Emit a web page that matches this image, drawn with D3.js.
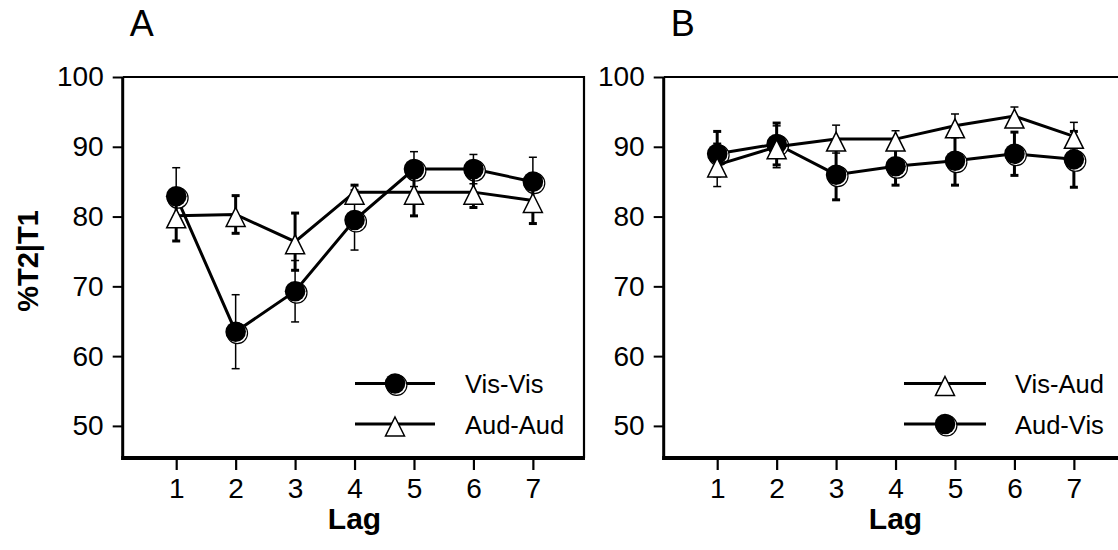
<!DOCTYPE html>
<html>
<head>
<meta charset="utf-8">
<script src="https://cdn.jsdelivr.net/npm/d3@7/dist/d3.min.js"></script>
<style>
  html, body { margin: 0; padding: 0; background: #fff; }
  svg { display: block; font-family: "Liberation Sans", Arial, sans-serif; }
</style>
</head>
<body>
<svg id="chart" width="1118" height="550"></svg>
<script>
// ---- data ----
const lags = [1, 2, 3, 4, 5, 6, 7];
const yTicks = [50, 60, 70, 80, 90, 100];

// Panel A
const visVis     = [82.9, 63.5, 69.3, 79.5, 86.8, 86.8, 85.0];
const visVisErr  = [4.1, 5.3, 4.4, 4.3, 2.5, 2.1, 3.5];
const audAud     = [80.1, 80.3, 76.4, 83.5, 83.5, 83.5, 82.3];
const audAudErr  = [3.6, 2.7, 4.1, 1.0, 3.4, 2.2, 3.3];

// Panel B
const visAud     = [87.4, 90.0, 91.1, 91.1, 93.0, 94.4, 91.5];
const visAudErr  = [3.1, 3.0, 2.0, 1.2, 1.7, 1.3, 2.0];
const audVis     = [89.0, 90.4, 86.0, 87.2, 88.0, 89.0, 88.2];
const audVisErr  = [3.2, 3.0, 3.6, 2.7, 3.5, 3.1, 4.0];

const panels = [
  { title: "A", left: 122.7, showYLabel: true,
    series: [
      { name: "Vis-Vis", values: visVis, err: visVisErr, marker: "circle", barW: 1.5 },
      { name: "Aud-Aud", values: audAud, err: audAudErr, marker: "triangle", barW: 3 }
    ],
    legendOrder: ["Vis-Vis", "Aud-Aud"],
    legendLine: [355, 435], legendText: 465 },
  { title: "B", left: 663.7, showYLabel: false,
    series: [
      { name: "Aud-Vis", values: audVis, err: audVisErr, marker: "circle", barW: 3 },
      { name: "Vis-Aud", values: visAud, err: visAudErr, marker: "triangle", barW: 1.5 }
    ],
    legendOrder: ["Vis-Aud", "Aud-Vis"],
    legendLine: [904, 986], legendText: 1015 }
];

const svg = d3.select("#chart");
const W = 461.3, topY = 77, bottomY = 458;
const y = d3.scaleLinear().domain([45.4, 100]).range([bottomY, topY]);

function drawCircle(g, cx, cy) {
  g.append("circle").attr("cx", cx + 1.6).attr("cy", cy + 1.6).attr("r", 10.3)
    .attr("fill", "#fff").attr("stroke", "#000").attr("stroke-width", 1.2);
  g.append("circle").attr("cx", cx).attr("cy", cy).attr("r", 10.3).attr("fill", "#000");
}
function drawTriangle(g, cx, cy) {
  const hw = 9.5, up = 7, dn = 12;
  g.append("path")
    .attr("d", `M${cx},${cy - up}L${cx + hw},${cy + dn}L${cx - hw},${cy + dn}Z`)
    .attr("fill", "#fff").attr("stroke", "#000").attr("stroke-width", 1.5)
    .attr("stroke-linejoin", "miter");
}

panels.forEach(p => {
  const x = d3.scaleLinear().domain([0.1, 7.86]).range([p.left, p.left + W]);
  const g = svg.append("g");

  // frame (top/right thin)
  g.append("path")
    .attr("d", `M${p.left},${topY}H${p.left + W}V${bottomY}`)
    .attr("fill", "none").attr("stroke", "#000").attr("stroke-width", 2.2);

  // y axis
  const ya = g.append("g").attr("transform", `translate(${p.left},0)`)
    .call(d3.axisLeft(y).tickValues(yTicks).tickSize(10).tickPadding(9).tickSizeOuter(0));
  ya.select(".domain").attr("stroke-width", 3).attr("d", `M0,${topY}V${bottomY + 2}`);
  ya.selectAll(".tick line").attr("stroke-width", 2);
  ya.selectAll(".tick text").attr("font-size", 28).attr("font-family", "Liberation Sans, Arial, sans-serif").attr("fill", "#000");

  // x axis
  const xa = g.append("g").attr("transform", `translate(0,${bottomY})`)
    .call(d3.axisBottom(x).tickValues(lags).tickFormat(d3.format("d")).tickSize(12).tickPadding(8).tickSizeOuter(0));
  xa.select(".domain").attr("stroke-width", 4).attr("d", `M${p.left - 1.5},0H${p.left + W + 1}`);
  xa.selectAll(".tick line").attr("stroke-width", 2.2);
  xa.selectAll(".tick text").attr("font-size", 28).attr("font-family", "Liberation Sans, Arial, sans-serif").attr("fill", "#000");

  // axis titles
  g.append("text").attr("x", x(4)).attr("y", 529).attr("text-anchor", "middle")
    .attr("font-size", 30).attr("font-weight", "bold").text("Lag");
  if (p.showYLabel) {
    g.append("text").attr("transform", "translate(38,261) rotate(-90)")
      .attr("text-anchor", "middle").attr("font-size", 29).attr("font-weight", "bold").text("%T2|T1");
  }
  // panel title
  g.append("text").attr("x", p.left + 7).attr("y", 36).attr("font-size", 36).text(p.title);

  // series
  const line = d3.line().x((d, i) => x(lags[i])).y(d => y(d));
  p.series.forEach(s => {
    const sg = g.append("g");
    sg.append("path").attr("d", line(s.values)).attr("fill", "none")
      .attr("stroke", "#000").attr("stroke-width", 3);
    s.values.forEach((v, i) => {
      const cx = x(lags[i]), y1 = y(v + s.err[i]), y2 = y(v - s.err[i]);
      sg.append("line").attr("x1", cx).attr("x2", cx).attr("y1", y1).attr("y2", y2)
        .attr("stroke", "#000").attr("stroke-width", s.barW);
      [y1, y2].forEach(yy => sg.append("line").attr("x1", cx - 4).attr("x2", cx + 4)
        .attr("y1", yy).attr("y2", yy).attr("stroke", "#000").attr("stroke-width", s.barW));
    });
    s.values.forEach((v, i) => {
      if (s.marker === "circle") drawCircle(sg, x(lags[i]), y(v));
      else drawTriangle(sg, x(lags[i]), y(v));
    });
  });

  // legend
  p.legendOrder.forEach((name, k) => {
    const s = p.series.find(d => d.name === name);
    const ly = 383.5 + k * 40.5;
    const [lx1, lx2] = p.legendLine;
    g.append("line").attr("x1", lx1).attr("x2", lx2).attr("y1", ly).attr("y2", ly)
      .attr("stroke", "#000").attr("stroke-width", 3);
    const mx = (lx1 + lx2) / 2;
    if (s.marker === "circle") drawCircle(g, mx, ly); else drawTriangle(g, mx, ly);
    g.append("text").attr("x", p.legendText).attr("y", ly + 9.5).attr("font-size", 25.5).text(name);
  });
});
</script>
</body>
</html>
